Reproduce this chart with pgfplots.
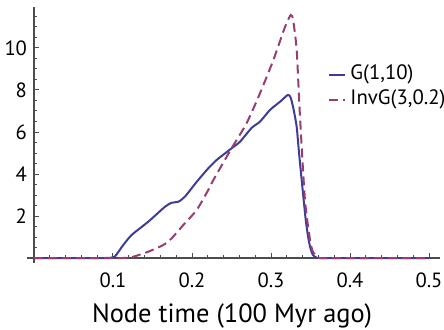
\documentclass[border=0pt]{standalone}
\usepackage{pgfplots}
\pgfplotsset{compat=1.18}
\usepackage{fontspec}
\setmainfont{PT Sans}
\definecolor{mblue}{rgb}{0.24,0.24,0.6}
\definecolor{mmag}{rgb}{0.6,0.24,0.442}
\begin{document}
\begin{tikzpicture}
\path[use as bounding box] (-17bp,-36bp) rectangle (205bp,129bp);
\begin{axis}[
  anchor=origin, at={(0,0)},
  x=395bp, y=10.5bp,
  axis lines=middle,
  axis line style={-, black!70, line width=0.6bp},
  xmin=-0.009, xmax=0.514, ymin=-0.25, ymax=11.95,
  xtick={0.1,0.2,0.3,0.4,0.5},
  ytick={2,4,6,8,10},
  minor xtick={0.02,0.04,0.06,0.08,0.12,0.14,0.16,0.18,0.22,0.24,0.26,0.28,0.32,0.34,0.36,0.38,0.42,0.44,0.46,0.48},
  minor ytick={0.5,1,1.5,2.5,3,3.5,4.5,5,5.5,6.5,7,7.5,8.5,9,9.5,10.5,11,11.5},
  xticklabels={0.1,0.2,0.3,0.4,0.5},
  yticklabels={2,4,6,8,10},
  tick align=inside,
  major tick length=2.5bp, minor tick length=1.3bp,
  every tick/.style={black!70, line width=0.5bp},
  tick label style={font=\fontsize{10.3bp}{12bp}\selectfont},
  xticklabel style={yshift=-4bp},
  xlabel={Node time (100 Myr ago)},
  xlabel style={at={(axis description cs:0.4964,0.0205)}, anchor=base, yshift=-32.3bp, font=\fontsize{13.2bp}{15bp}\selectfont},
  legend style={at={(axis description cs:0.729,0.7757)}, anchor=north west, draw=none, fill=none,
     inner sep=0pt, font=\fontsize{10.4bp}{12bp}\selectfont,
     nodes={inner sep=0pt, text height=7.3bp, text depth=2.3bp},
     row sep=2.9bp, column sep=2bp},
  legend cell align=left,
  legend image code/.code={\draw[#1] (0bp,0bp) -- (8bp,0bp);},
]
\addplot[mblue, line width=1bp, smooth, tension=0.4] coordinates {
(0,0) (0.05,0) (0.09,0) (0.097,0.01) (0.1025,0.08) (0.107,0.3) (0.113,0.62) (0.1237,1.1)
(0.1447,1.73) (0.1658,2.44) (0.1743,2.63) (0.1827,2.68) (0.191,2.92) (0.206,3.63)
(0.2206,4.27) (0.2313,4.67) (0.25,5.22) (0.2608,5.54) (0.2756,6.2) (0.286,6.49)
(0.2987,7.05) (0.3114,7.44) (0.321,7.76) (0.324,7.7) (0.326,7.5) (0.329,7.0)
(0.3325,6.25) (0.335,5.2) (0.338,4.03) (0.341,2.9) (0.344,1.8) (0.347,1.0)
(0.35,0.45) (0.353,0.15) (0.357,0.03) (0.361,0) (0.4,0) (0.45,0) (0.5,0)
};
\addlegendentry{G(1,10)}
\addplot[mmag, line width=1bp, dash pattern=on 4.5bp off 2.5bp, smooth, tension=0.4] coordinates {
(0,0) (0.05,0) (0.1,0) (0.112,0) (0.118,0.01) (0.1257,0.06) (0.1447,0.3) (0.1637,0.62)
(0.1743,0.94) (0.189,1.57) (0.206,2.29) (0.2206,3.24) (0.227,3.71) (0.25,5.22)
(0.269,6.41) (0.286,7.84) (0.303,9.43) (0.3177,11.0) (0.325,11.57) (0.328,11.33)
(0.3325,9.9) (0.3367,6.73) (0.343,2.76) (0.3494,0.86) (0.353,0.3) (0.358,0.06)
(0.362,0) (0.4,0) (0.45,0) (0.5,0)
};
\addlegendentry{InvG(3,0.2)}
\end{axis}
\end{tikzpicture}
\end{document}
